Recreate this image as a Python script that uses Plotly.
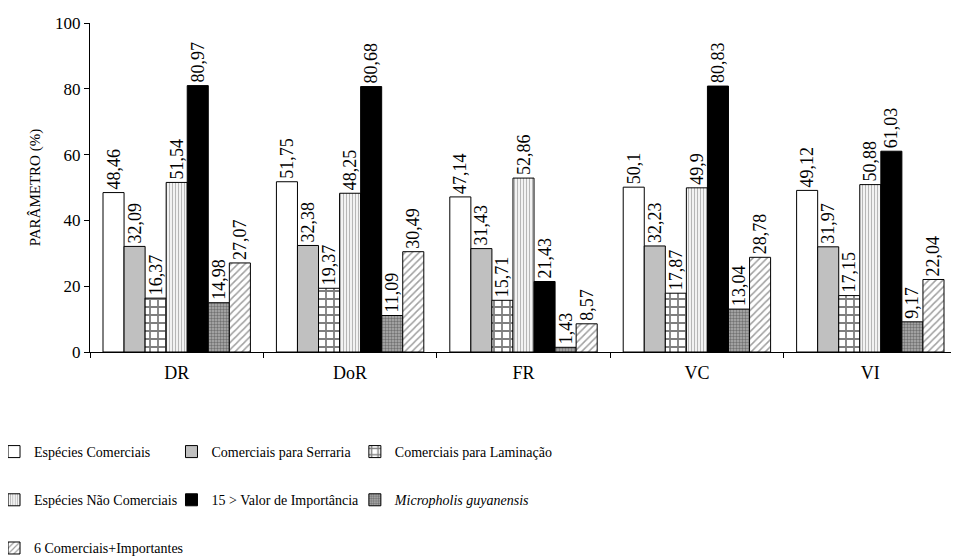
import plotly.graph_objects as go

categories = ["DR", "DoR", "FR", "VC", "VI"]
series_names = [
    "Espécies Comerciais",
    "Comerciais para Serraria",
    "Comerciais para Laminação",
    "Espécies Não Comerciais",
    "15 > Valor de Importância",
    "<i>Micropholis guyanensis</i>",
    "6 Comerciais+Importantes",
]
especies_comerciais = [48.46, 51.75, 47.14, 50.1, 49.12]
comerciais_serraria = [32.09, 32.38, 31.43, 32.23, 31.97]
comerciais_laminacao = [16.37, 19.37, 15.71, 17.87, 17.15]
especies_nao_comerciais = [51.54, 48.25, 52.86, 49.9, 50.88]
valor_importancia = [80.97, 80.68, 21.43, 80.83, 61.03]
micropholis = [14.98, 11.09, 1.43, 13.04, 9.17]
seis_comerciais = [27.07, 30.49, 8.57, 28.78, 22.04]
y_ticks = [0, 20, 40, 60, 80, 100]

series_values = [especies_comerciais, comerciais_serraria, comerciais_laminacao,
                 especies_nao_comerciais, valor_importancia, micropholis, seis_comerciais]

styles = [
    dict(color="white", pattern=dict(shape="")),
    dict(color="#c0c0c0", pattern=dict(shape="")),
    dict(color="white", pattern=dict(shape="+", fgcolor="black", bgcolor="white", size=8, solidity=0.4)),
    dict(color="white", pattern=dict(shape="|", fgcolor="#707070", bgcolor="white", size=3, solidity=0.45)),
    dict(color="black", pattern=dict(shape="")),
    dict(color="white", pattern=dict(shape=".", fgcolor="#333333", bgcolor="#b0b0b0", size=3, solidity=0.5)),
    dict(color="white", pattern=dict(shape="/", fgcolor="#404040", bgcolor="white", size=5, solidity=0.3)),
]
# legend columns: col1 = legend, col2 = legend2, col3 = legend3
legend_ids = ["legend", "legend2", "legend3", "legend", "legend2", "legend3", "legend"]

font_family = "Liberation Serif"

fig = go.Figure()
for i, (name, vals, st, lg) in enumerate(zip(series_names, series_values, styles, legend_ids)):
    fig.add_trace(go.Bar(
        x=categories, y=vals, name=name,
        text=[str(v).replace(".", ",") for v in vals],
        textposition="outside", textangle=-90,
        textfont=dict(family=font_family, size=18, color="black"),
        cliponaxis=False,
        marker=dict(color=st["color"], line=dict(color="black", width=1), pattern=st["pattern"]),
        legend=lg, legendgroup="g%d" % i,
    ))

legend_common = dict(orientation="v", xanchor="left", yanchor="top", y=-0.2553,
                     font=dict(family=font_family, size=14, color="black"),
                     bgcolor="rgba(0,0,0,0)", itemwidth=30, tracegroupgap=27)

fig.update_layout(
    width=951, height=551,
    margin=dict(l=82, r=2, t=15, b=207, autoexpand=False),
    paper_bgcolor="white", plot_bgcolor="white",
    barmode="group", bargap=0.15, bargroupgap=0,
    uniformtext=dict(minsize=18, mode="show"),
    font=dict(family=font_family, size=15, color="black"),
    legend=dict(x=-0.1107, **legend_common),
    legend2=dict(x=0.094, **legend_common),
    legend3=dict(x=0.3055, **legend_common),
    xaxis=dict(showline=True, linecolor="black", linewidth=1, ticks="outside",
               tickson="boundaries", ticklen=5, tickcolor="black", ticklabelstandoff=4,
               tickfont=dict(family=font_family, size=18)),
    yaxis=dict(range=[0, 100], tickvals=y_ticks, showline=True, linecolor="black",
               linewidth=1, ticks="outside", ticklen=5, tickcolor="black",
               showgrid=False, zeroline=False,
               title=dict(text="PARÂMETRO (%)", font=dict(family=font_family, size=15), standoff=10),
               tickfont=dict(family=font_family, size=17)),
)

fig.write_html("out.html")
